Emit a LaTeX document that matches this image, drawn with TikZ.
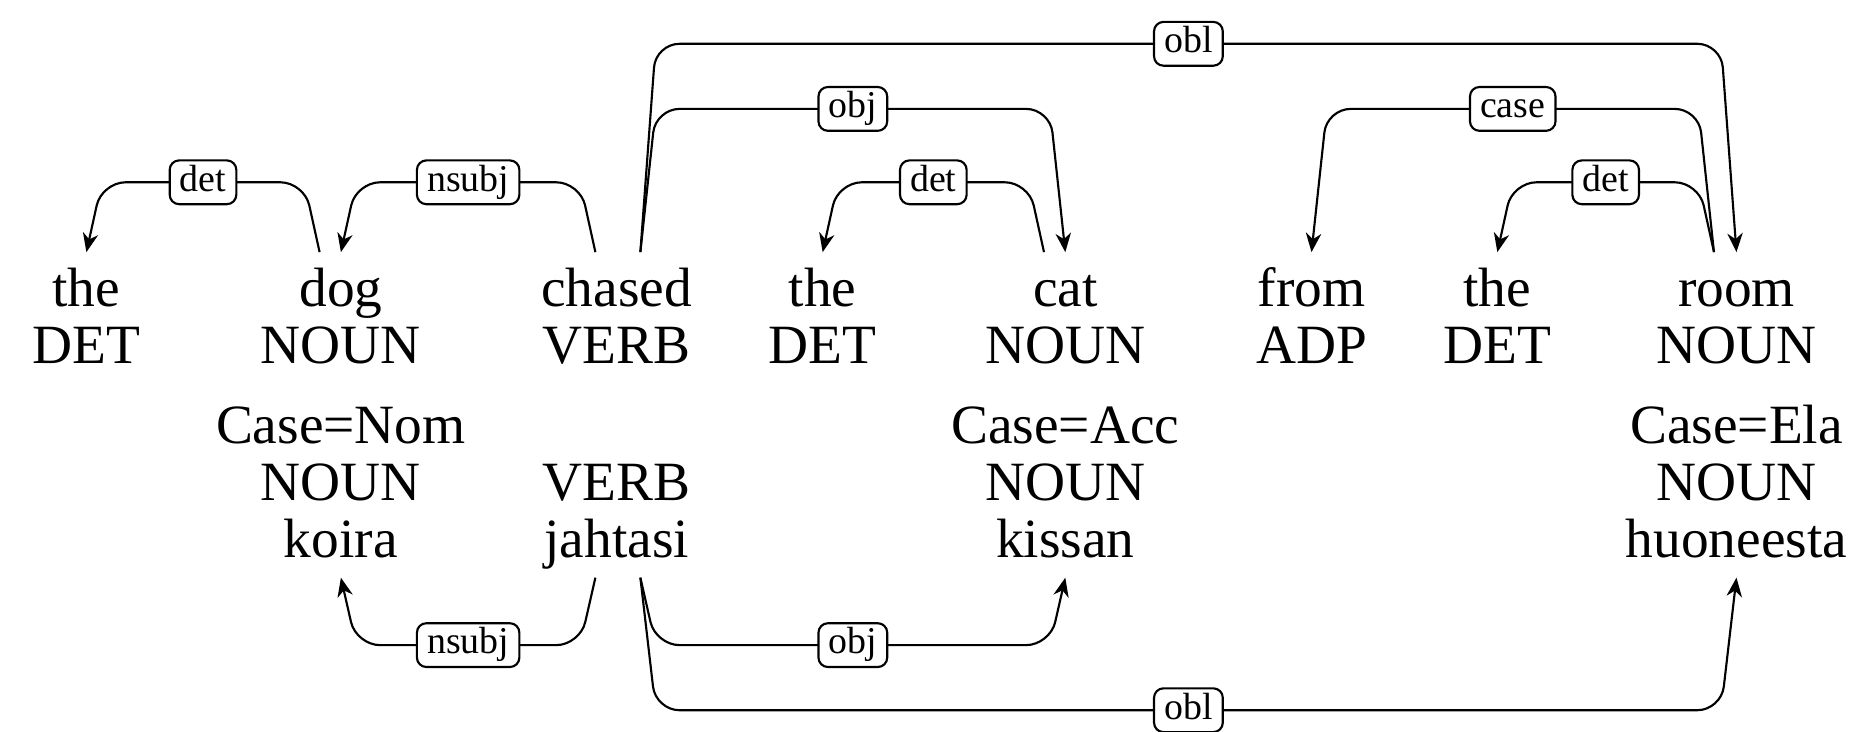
\documentclass[tikz,border=0pt]{standalone}
\usepackage{fontspec}
\setmainfont{Liberation Serif}
\usetikzlibrary{arrows.meta,calc}
\begin{document}
\begin{tikzpicture}[x=0.5pt,y=-0.5pt,
  wd/.style={inner sep=0pt, anchor=base, font=\fontsize{23.4}{24}\selectfont},
  lab/.style={draw, rounded corners=4pt, fill=white, font=\fontsize{16}{16}\selectfont,
    inner xsep=4.3pt, inner ysep=2pt, text height=11pt, text depth=3.5pt, line width=0.9pt},
  dep/.style={line width=0.9pt, rounded corners=10pt},
  arr/.style={-{Stealth[length=8pt,width=6.5pt,inset=2.5pt]}}]
\useasboundingbox (0,0) rectangle (1568,618);
% top words
\node[wd] (the1) at (73,259) {the};
\node[wd] (dog) at (288,259) {dog};
\node[wd] (chased) at (521,259) {chased};
\node[wd] (the2) at (695,259) {the};
\node[wd] (cat) at (900,259) {cat};
\node[wd] (from) at (1108,259) {from};
\node[wd] (the3) at (1265,259) {the};
\node[wd] (room) at (1467,259) {room};
% tags
\node[wd] (p1) at (73,307) {DET};
\node[wd] (p2) at (288,307) {NOUN};
\node[wd] (p3) at (521,307) {VERB};
\node[wd] (p4) at (695,307) {DET};
\node[wd] (p5) at (900,307) {NOUN};
\node[wd] (p6) at (1108,307) {ADP};
\node[wd] (p7) at (1265,307) {DET};
\node[wd] (p8) at (1467,307) {NOUN};
% bottom block
\node[wd] (cnom) at (288,375) {Case=Nom};
\node[wd] (cacc) at (900,375) {Case=Acc};
\node[wd] (cela) at (1467,375) {Case=Ela};
\node[wd] (q1) at (288,423) {NOUN};
\node[wd] (q2) at (521,423) {VERB};
\node[wd] (q3) at (900,423) {NOUN};
\node[wd] (q4) at (1467,423) {NOUN};
\node[wd] (koira) at (288,471) {koira};
\node[wd] (jahtasi) at (521,471) {jahtasi};
\node[wd] (kissan) at (900,471) {kissan};
\node[wd] (huoneesta) at (1467,471) {huoneesta};
% top arcs
\draw[dep,arr] ($(dog.base)+(-18,-46)$) -- ++(-13,-59) -- node[lab]{det} ($(the1.base)+(13,-105)$) -- ($(the1.base)+(0,-46)$);
\draw[dep,arr] ($(chased.base)+(-18,-46)$) -- ++(-13,-59) -- node[lab]{nsubj} ($(dog.base)+(13,-105)$) -- ($(dog.base)+(0,-46)$);
\draw[dep,arr] ($(chased.base)+(20,-46)$) -- ++(13,-121) -- node[lab]{obj} ($(cat.base)+(-13,-167)$) -- ($(cat.base)+(0,-46)$);
\draw[dep,arr] ($(chased.base)+(20,-46)$) -- ++(13,-176) -- node[lab]{obl} ($(room.base)+(-13,-222)$) -- ($(room.base)+(0,-46)$);
\draw[dep,arr] ($(cat.base)+(-18,-46)$) -- ++(-13,-59) -- node[lab]{det} ($(the2.base)+(13,-105)$) -- ($(the2.base)+(0,-46)$);
\draw[dep,arr] ($(room.base)+(-19,-46)$) -- ++(-13,-121) -- node[lab]{case} ($(from.base)+(13,-167)$) -- ($(from.base)+(0,-46)$);
\draw[dep,arr] ($(room.base)+(-19,-46)$) -- ++(-13,-59) -- node[lab]{det} ($(the3.base)+(13,-105)$) -- ($(the3.base)+(0,-46)$);
% bottom arcs
\draw[dep,arr] ($(jahtasi.base)+(-18,17)$) -- ++(-13,57) -- node[lab]{nsubj} ($(koira.base)+(13,74)$) -- ($(koira.base)+(0,17)$);
\draw[dep,arr] ($(jahtasi.base)+(20,17)$) -- ++(13,57) -- node[lab]{obj} ($(kissan.base)+(-13,74)$) -- ($(kissan.base)+(0,17)$);
\draw[dep,arr] ($(jahtasi.base)+(20,17)$) -- ++(13,112) -- node[lab]{obl} ($(huoneesta.base)+(-13,129)$) -- ($(huoneesta.base)+(0,17)$);
\end{tikzpicture}
\end{document}
